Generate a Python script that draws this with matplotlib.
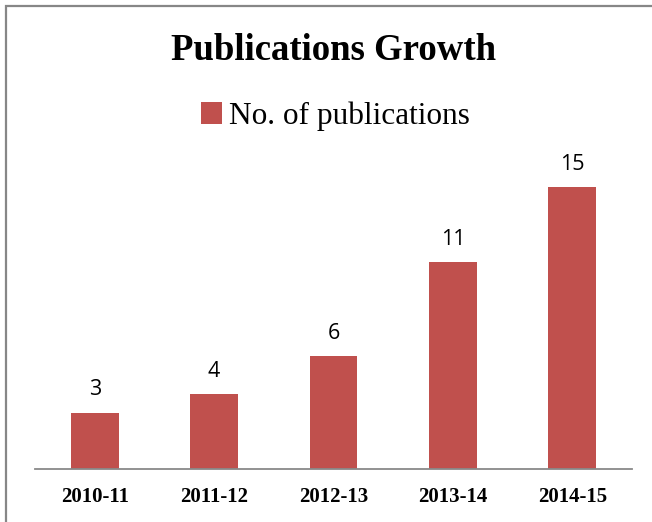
import matplotlib
matplotlib.use('Agg')
import matplotlib.pyplot as plt
from matplotlib.patches import Rectangle

# data
years = ['2010-11', '2011-12', '2012-13', '2013-14', '2014-15']
pubs = [3, 4, 6, 11, 15]
bar_color = '#c0504d'

fig = plt.figure(figsize=(6.52, 5.22), dpi=100)

# chart border (right / bottom edges cut off in the original)
fig.patches.append(Rectangle((5.5/652, -0.05), 1.2, 1.05 - 5.5/522,
                             transform=fig.transFigure, fill=False,
                             edgecolor='#878787', linewidth=1.6))

# axes placed in pixel terms: x-line 35..632, baseline at y=469
ax = fig.add_axes([35/652, (522-469)/522, 597/652, (469-169)/522])
ax.bar(range(len(years)), pubs, width=0.4, color=bar_color, label='No. of publications')
ax.set_xlim(-0.5, len(years) - 0.5)
ax.set_ylim(0, 300 / 18.8)

for i, v in enumerate(pubs):
    ax.text(i, v + 0.65, str(v), ha='center', va='bottom',
            fontsize=15.5, family='Open Sans', color='black')

ax.set_xticks(range(len(years)))
ax.set_xticklabels(years, fontsize=15, family='Liberation Serif', fontweight='bold')
ax.tick_params(axis='x', length=0, pad=13)
ax.set_yticks([])
for s in ['top', 'right', 'left']:
    ax.spines[s].set_visible(False)
ax.spines['bottom'].set_color('#898989')
ax.spines['bottom'].set_linewidth(1.3)

fig.text(333/652, 1 - 50/522, 'Publications Growth', ha='center', va='center',
         fontsize=26.5, family='Liberation Serif', fontweight='bold')

fig.legend(loc='center', bbox_to_anchor=(335/652, 1 - 116/522),
           prop={'family': 'Liberation Serif', 'size': 22.5}, frameon=False,
           handlelength=0.7, handleheight=0.7, handletextpad=0.2)

fig.savefig('out.png', dpi=100)
